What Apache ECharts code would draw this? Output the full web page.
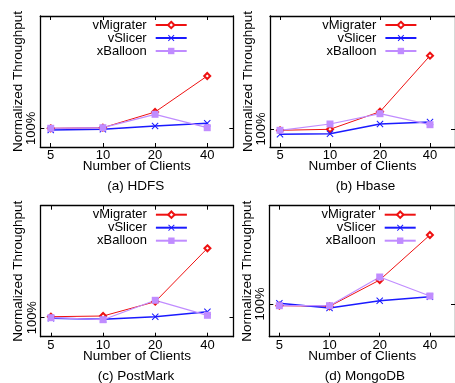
<!DOCTYPE html>
<html>
<head>
<meta charset="utf-8">
<script src="https://cdn.jsdelivr.net/npm/echarts@6/dist/echarts.min.js"></script>
<style>
  html, body { margin: 0; padding: 0; background: #fff; }
  #chart { width: 455px; height: 383px; }
</style>
</head>
<body>
<div id="chart"></div>
<script>
// x categories (number of clients)
const clients = ['5', '10', '20', '40'];
const seriesNames = ['vMigrater', 'vSlicer', 'xBalloon'];
const panelTitles = ['(a) HDFS', '(b) Hbase', '(c) PostMark', '(d) MongoDB'];
const yTickValues = [1];
const yTickLabels = ['100%'];

// normalized throughput, 1 = 100%
const hdfsMigrater = [1.0, 1.006, 1.163, 1.523];
const hdfsSlicer = [0.983, 0.99, 1.023, 1.05];
const hdfsBalloon = [1.0, 1.006, 1.14, 1.006];

const hbaseMigrater = [0.987, 0.997, 1.173, 1.733];
const hbaseSlicer = [0.947, 0.953, 1.05, 1.07];
const hbaseBalloon = [0.987, 1.05, 1.153, 1.043];

const postmarkMigrater = [1.01, 1.017, 1.16, 1.694];
const postmarkSlicer = [0.994, 0.984, 1.01, 1.06];
const postmarkBalloon = [1.0, 0.98, 1.174, 1.024];

const mongoMigrater = [0.983, 0.977, 1.24, 1.69];
const mongoSlicer = [1.007, 0.96, 1.033, 1.073];
const mongoBalloon = [0.983, 0.983, 1.27, 1.08];

const panelData = [
  [hdfsMigrater, hdfsSlicer, hdfsBalloon],
  [hbaseMigrater, hbaseSlicer, hbaseBalloon],
  [postmarkMigrater, postmarkSlicer, postmarkBalloon],
  [mongoMigrater, mongoSlicer, mongoBalloon]
];

// layout of each panel
const panels = [
  { left: 40.3, top: 16, yMin: 0.813, yMax: 2.123 },
  { left: 270, top: 16, yMin: 0.82, yMax: 2.13 },
  { left: 40.5, top: 205.7, yMin: 0.81, yMax: 2.12 },
  { left: 269.3, top: 205.7, yMin: 0.673, yMax: 1.983 }
];
const gridW = 193;
const gridH = 131;

const font = 'Liberation Sans, Arial, Helvetica, sans-serif';
const styles = [
  { color: '#ee1111', width: 1, symbol: 'emptyDiamond', size: 6 },
  { color: '#1a1aff', width: 1.6, symbol: 'path://M0,1L1,0L5,4L9,0L10,1L6,5L10,9L9,10L5,6L1,10L0,9L4,5Z', size: 7 },
  { color: '#c08cff', width: 1.2, symbol: 'rect', size: 7 }
];

const grid = [], xAxis = [], yAxis = [], series = [], legend = [], title = [];
const xIdx = clients.map((c, i) => i);

panels.forEach((p, k) => {
  grid.push({ left: p.left, top: p.top, width: gridW, height: gridH, show: false });
  const axLine = { show: true, onZero: false, lineStyle: { color: '#000', width: 1.3 } };
  ['bottom', 'top'].forEach(pos => {
    xAxis.push({
      type: 'value', gridIndex: k, position: pos, min: -0.2, max: 3.5,
      axisLine: axLine,
      axisTick: { show: true, inside: true, length: 4, customValues: xIdx, lineStyle: { color: '#000' } },
      axisLabel: {
        show: pos === 'bottom', customValues: xIdx, margin: 2,
        formatter: v => clients[Math.round(v)], color: '#000', fontSize: 13, fontFamily: font
      },
      splitLine: { show: false },
      name: pos === 'bottom' ? 'Number of Clients' : '',
      nameLocation: 'middle', nameGap: 12.5, nameMoveOverlap: false,
      nameTextStyle: { color: '#000', fontSize: 13.5, fontFamily: font }
    });
  });
  ['left', 'right'].forEach(pos => {
    yAxis.push({
      type: 'value', gridIndex: k, position: pos, min: p.yMin, max: p.yMax,
      axisLine: axLine,
      axisTick: { show: true, inside: true, length: 4, customValues: yTickValues, lineStyle: { color: '#000' } },
      axisLabel: {
        show: pos === 'left', customValues: yTickValues, rotate: 90, margin: 2,
        formatter: v => yTickLabels[yTickValues.indexOf(v)] || '', color: '#000', fontSize: 13, fontFamily: font
      },
      splitLine: { show: false },
      name: pos === 'left' ? 'Normalized Throughput' : '',
      nameLocation: 'middle', nameRotate: 90, nameGap: 15, nameMoveOverlap: false,
      nameTextStyle: { color: '#000', fontSize: 13.5, fontFamily: font }
    });
  });
  seriesNames.forEach((name, s) => {
    const st = styles[s];
    series.push({
      name: name, type: 'line', xAxisIndex: k * 2, yAxisIndex: k * 2,
      data: panelData[k][s].map((v, i) => [i, v]),
      symbol: st.symbol, symbolSize: st.size, showAllSymbol: true,
      lineStyle: { color: st.color, width: st.width },
      itemStyle: { color: st.color, borderColor: st.color, borderWidth: s === 0 ? 1.2 : 0 },
      emphasis: { disabled: true }, animation: false
    });
  });
  legend.push({
    orient: 'vertical', align: 'right', padding: 0, itemGap: 0,
    right: 455 - (p.left + 147.4), top: p.top + 2.5,
    itemWidth: 31, itemHeight: 8, selectedMode: false,
    data: seriesNames,
    textStyle: { color: '#000', fontSize: 13, lineHeight: 12.5, fontFamily: font, padding: [0, 4, 0, 0] }
  });
  title.push({
    text: panelTitles[k], left: p.left + gridW / 2 - 1, top: p.top + 163.5,
    textAlign: 'center', padding: 0,
    textStyle: { color: '#000', fontSize: 13.5, fontWeight: 'normal', fontFamily: font }
  });
});

const chart = echarts.init(document.getElementById('chart'));
chart.setOption({ animation: false, grid, xAxis, yAxis, series, legend, title });
</script>
</body>
</html>
